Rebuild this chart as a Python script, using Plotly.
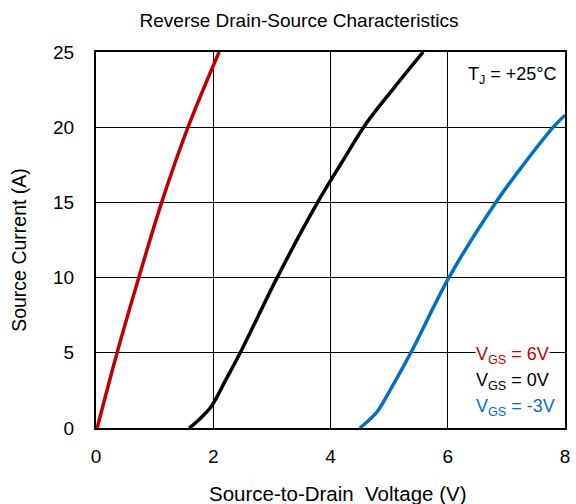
import plotly.graph_objects as go

# Data
vgs6_v = [0.02, 0.36, 0.73, 1.12, 1.57, 2.1]
vgs6_i = [0.0, 5.0, 10.0, 15.0, 20.0, 25.0]

vgs0_v = [1.59, 1.7, 1.82, 1.94, 2.06, 2.2, 2.46, 3.09, 3.78, 4.2, 4.6, 5.08, 5.58]
vgs0_i = [0.0, 0.35, 0.8, 1.3, 2.05, 3.1, 5.0, 10.0, 15.0, 17.7, 20.2, 22.6, 25.0]

vgsm3_v = [4.5, 4.65, 4.8, 5.0, 5.37, 6.02, 6.82, 7.29, 7.8, 8.0]
vgsm3_i = [0.0, 0.5, 1.1, 2.4, 5.0, 10.0, 15.0, 17.5, 20.0, 20.8]

x_ticks = [0, 2, 4, 6, 8]
y_ticks = [0, 5, 10, 15, 20, 25]

RED = "#C00000"
BLUE = "#0070C0"
FONT = "Liberation Sans, Arial, sans-serif"

fig = go.Figure()
for xs, ys, col in [(vgs6_v, vgs6_i, RED), (vgs0_v, vgs0_i, "black"), (vgsm3_v, vgsm3_i, BLUE)]:
    fig.add_trace(go.Scatter(x=xs, y=ys, mode="lines",
                             line=dict(color=col, width=3.5, shape="spline", smoothing=1.0),
                             showlegend=False, cliponaxis=True))

fig.update_layout(
    width=576, height=504,
    margin=dict(l=96, r=6, t=52, b=76),
    paper_bgcolor="white", plot_bgcolor="white",
    font=dict(family=FONT, size=19, color="black"),
    title=dict(text="Reverse Drain-Source Characteristics", x=299/576, xanchor="center",
               y=1-20/504, yanchor="middle", font=dict(size=19)),
)
fig.update_xaxes(range=[0, 8], tickvals=x_ticks, showgrid=True, gridcolor="black", gridwidth=1,
                 zeroline=False, showline=True, linecolor="black", linewidth=2, mirror=True,
                 ticks="", ticklabelstandoff=10, tickfont=dict(size=19))
fig.update_yaxes(range=[0, 25], tickvals=y_ticks, showgrid=True, gridcolor="black", gridwidth=1,
                 zeroline=False, showline=True, linecolor="black", linewidth=2, mirror=True,
                 ticks="", ticklabelstandoff=16, tickfont=dict(size=19))

# Axis titles
fig.add_annotation(xref="paper", yref="paper", x=(341-96)/474, y=(428-493)/376,
                   text="Source-to-Drain  Voltage (V)", showarrow=False,
                   xanchor="center", yanchor="middle", font=dict(size=20.5))
fig.add_annotation(xref="paper", yref="paper", x=(18-96)/474, y=(428-250)/376,
                   text="Source Current (A)", showarrow=False, textangle=-90,
                   xanchor="center", yanchor="middle", font=dict(size=19.5))

fig.add_annotation(xref="paper", yref="paper", x=(470-96)/474, y=(428-75)/376,
                   text="T<sub>J</sub> = +25°C", showarrow=False, xanchor="left", yanchor="middle",
                   font=dict(size=18))
labels = [("V<sub>GS</sub> = 6V", RED, 355), ("V<sub>GS</sub> = 0V", "black", 381), ("V<sub>GS</sub> = -3V", BLUE, 407)]
for txt, col, ypx in labels:
    fig.add_annotation(xref="paper", yref="paper", x=(479-96)/474, y=(428-ypx)/376,
                       text=txt, showarrow=False, xanchor="left", yanchor="middle",
                       font=dict(size=18, color=col), bgcolor="white", borderpad=0)

fig.write_html("out.html")
